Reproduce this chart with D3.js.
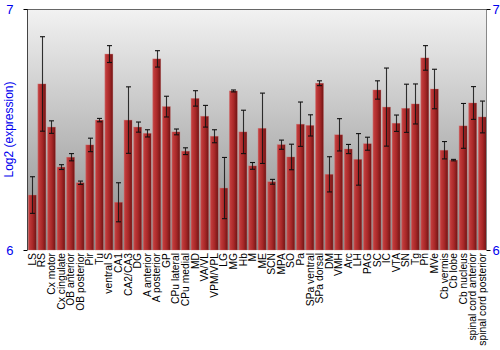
<!DOCTYPE html>
<html><head><meta charset="utf-8">
<script src="https://cdn.jsdelivr.net/npm/d3@7"></script>
<style>body{margin:0;background:#fff;}svg{display:block;font-family:"Liberation Sans",Arial,sans-serif;}</style>
</head><body><svg id="c" width="500" height="350"></svg>
<script>
const categories = ["LS","RS","Cx motor","Cx cingulate","OB anterior","OB posterior","Pir","Tu","ventral S","CA1","CA2/CA3","DG","A anterior","A posterior","GP","CPu lateral","CPu medial","MD","VA/VL","VPM/VPL","LG","MG","Hb","M","ME","SCN","MPA","SO","Pa","SPa ventral","SPa dorsal","DM","VMH","Arc","LH","PAG","SC","IC","VTA","SN","Tg","Pn","MVe","Cb vermis","Cb lobe","Cb nucleus","spinal cord anterior","spinal cord posterior"];
const values = [6.228,6.689,6.510,6.344,6.385,6.279,6.436,6.539,6.813,6.198,6.539,6.510,6.484,6.793,6.595,6.490,6.410,6.629,6.555,6.472,6.257,6.660,6.490,6.349,6.505,6.283,6.437,6.386,6.522,6.517,6.692,6.314,6.478,6.419,6.376,6.441,6.664,6.593,6.526,6.588,6.606,6.797,6.668,6.414,6.373,6.515,6.610,6.552];
const errors = [0.076,0.196,0.026,0.010,0.015,0.007,0.028,0.007,0.035,0.081,0.138,0.021,0.015,0.034,0.043,0.012,0.014,0.032,0.045,0.027,0.127,0.004,0.090,0.014,0.146,0.010,0.019,0.053,0.092,0.044,0.010,0.073,0.067,0.019,0.107,0.027,0.038,0.162,0.034,0.100,0.083,0.051,0.082,0.036,0.003,0.093,0.068,0.066];
const yTicks = [6,7];

const svg = d3.select("#c");
const L=27, R=487, T=9, B=250;
const x = d3.scaleBand().domain(categories).range([L+0.5,R]).paddingInner(0.16).paddingOuter(0.08);
const y = d3.scaleLinear().domain([6,7]).range([B,T]);

const defs = svg.append("defs");
const bg = defs.append("linearGradient").attr("id","bg").attr("x1",0).attr("y1",0).attr("x2",0).attr("y2",1);
bg.append("stop").attr("offset","0%").attr("stop-color","#f2f2f2");
bg.append("stop").attr("offset","100%").attr("stop-color","#8a8a8a");
const bar = defs.append("linearGradient").attr("id","bar").attr("x1",0).attr("y1",0).attr("x2",1).attr("y2",0);
bar.append("stop").attr("offset","0%").attr("stop-color","#c85a5a");
bar.append("stop").attr("offset","15%").attr("stop-color","#c03a3a");
bar.append("stop").attr("offset","55%").attr("stop-color","#a82828");
bar.append("stop").attr("offset","100%").attr("stop-color","#701414");

svg.append("rect").attr("x",L).attr("y",T).attr("width",R-L).attr("height",B-T).attr("fill","url(#bg)");

svg.append("g").selectAll("rect").data(categories).join("rect")
  .attr("x",d=>x(d)).attr("width",x.bandwidth())
  .attr("y",(d,i)=>y(values[i])).attr("height",(d,i)=>B-y(values[i]))
  .attr("fill","url(#bar)").attr("stroke","#d07070").attr("stroke-opacity",0.5).attr("stroke-width",0.6);

const eg = svg.append("g").attr("stroke","#111").attr("stroke-width",1.1);
categories.forEach((c,i)=>{
  const cx = Math.round(x(c)+x.bandwidth()/2)+0.5;
  const y1=y(values[i]+errors[i]), y2=y(values[i]-errors[i]);
  eg.append("line").attr("x1",cx).attr("x2",cx).attr("y1",y1).attr("y2",y2).attr("stroke-opacity",0.85);
  eg.append("line").attr("x1",cx-2.5).attr("x2",cx+2.5).attr("y1",y1).attr("y2",y1);
  eg.append("line").attr("x1",cx-2.5).attr("x2",cx+2.5).attr("y1",y2).attr("y2",y2);
});

// frame
svg.append("line").attr("x1",L).attr("x2",R).attr("y1",T+0.5).attr("y2",T+0.5).attr("stroke","#666");
svg.append("line").attr("x1",R-0.5).attr("x2",R-0.5).attr("y1",T).attr("y2",B).attr("stroke","#888");
svg.append("line").attr("x1",L+0.5).attr("x2",L+0.5).attr("y1",T).attr("y2",B).attr("stroke","#444");

const yl = svg.append("g").attr("transform",`translate(${L+0.5},0)`)
  .call(d3.axisLeft(y).tickValues(yTicks).tickFormat(d3.format("d")).tickSize(4).tickPadding(10));
yl.select(".domain").remove();
yl.selectAll("text").attr("fill","#0000ee").style("font-size","13px");
const yr = svg.append("g").attr("transform",`translate(${R-0.5},0)`)
  .call(d3.axisRight(y).tickValues(yTicks).tickFormat(d3.format("d")).tickSize(4).tickPadding(2));
yr.select(".domain").remove();
yr.selectAll("text").attr("fill","#0000ee").style("font-size","13px");

const xa = svg.append("g").attr("transform",`translate(0,${B})`).call(d3.axisBottom(x).tickSize(0).tickPadding(0));
xa.select(".domain").remove();
xa.selectAll("text").attr("transform","rotate(-90)").attr("text-anchor","end")
  .attr("x",-3).attr("y",0).attr("dy","0.35em").attr("fill","#000").style("font-size","10.3px");

svg.append("text").attr("transform",`translate(13,${(T+B)/2}) rotate(-90)`).attr("text-anchor","middle")
  .attr("fill","#0000ee").style("font-size","12px").text("Log2 (expression)");
</script></body></html>
